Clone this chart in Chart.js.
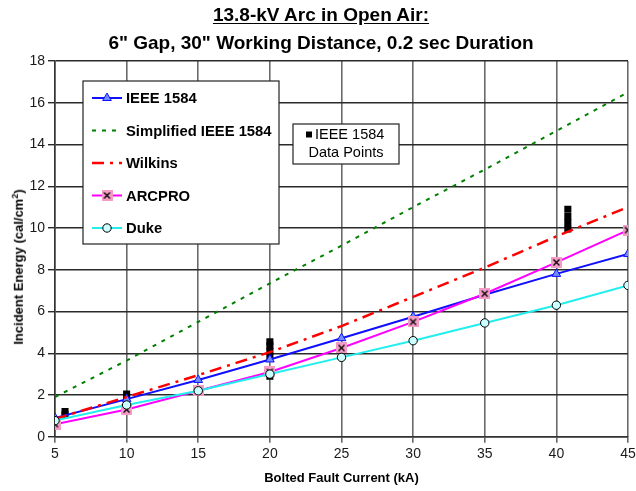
<!DOCTYPE html>
<html>
<head>
<meta charset="utf-8">
<script src="https://cdn.jsdelivr.net/npm/chart.js@4/dist/chart.umd.min.js"></script>
<style>
  html, body { margin: 0; padding: 0; background: #fff; }
  #wrap { position: relative; width: 636px; height: 491px; font-family: "Liberation Sans", Arial, sans-serif; color: #000; }
  #title { position: absolute; left: 0; top: 1px; width: 642px; text-align: center; font-weight: bold; font-size: 19px; line-height: 28px; }
  #title u { text-underline-offset: 2px; }
  #ylabel { position: absolute; left: 17.5px; top: 267px; transform: translate(-50%, -50%) rotate(-90deg); white-space: nowrap; font-weight: bold; font-size: 13px; }
  #ylabel sup { font-size: 9px; }
  canvas { position: absolute; left: 0; top: 0; }
</style>
</head>
<body>
<div id="wrap">
  <canvas id="arc" width="636" height="491"></canvas>
  <div id="title"><u>13.8-kV Arc in Open Air:</u><br>6" Gap, 30" Working Distance, 0.2 sec Duration</div>
  <div id="ylabel">Incident Energy (cal/cm<sup>2</sup>)</div>
</div>
<script>
// bolted fault current, kA
var currents = [5, 10, 15, 20, 25, 30, 35, 40, 45];

// incident energy, cal/cm2
var ieee1584   = [0.9, 1.8, 2.72, 3.7, 4.72, 5.75, 6.8, 7.8, 8.75];
var simplified = [1.9, 3.65, 5.5, 7.35, 9.15, 11.0, 12.8, 14.65, 16.5];
var wilkins    = [0.85, 1.9, 2.95, 4.05, 5.3, 6.7, 8.1, 9.6, 11.0];
var arcpro     = [0.6, 1.3, 2.2, 3.1, 4.25, 5.5, 6.85, 8.35, 9.9];
var duke       = [0.77, 1.52, 2.2, 3.0, 3.8, 4.6, 5.45, 6.3, 7.25];

// IEEE 1584 test data points
var testCurrent = [5.7, 5.7, 10, 10, 20, 20, 20, 20, 20, 40.8, 40.8, 40.8, 40.8];
var testEnergy  = [1.05, 1.2, 1.9, 2.05, 2.9, 3.85, 4.1, 4.35, 4.55, 9.95, 10.25, 10.55, 10.9];

var xTicks = [5, 10, 15, 20, 25, 30, 35, 40, 45];
var yTicks = [0, 2, 4, 6, 8, 10, 12, 14, 16, 18];

function pairs(xs, ys) {
  return xs.map(function(x, i) { return { x: x, y: ys[i] }; });
}

// pink square with a black cross for the ARCPRO markers
var arcproMark = document.createElement("canvas");
arcproMark.width = 11;
arcproMark.height = 11;
(function() {
  var c = arcproMark.getContext("2d");
  c.fillStyle = "#f59cc6";
  c.fillRect(0, 0, 11, 11);
  c.strokeStyle = "#000";
  c.lineWidth = 1.3;
  c.beginPath();
  c.moveTo(2.5, 2.5); c.lineTo(8.5, 8.5);
  c.moveTo(8.5, 2.5); c.lineTo(2.5, 8.5);
  c.stroke();
})();

var FONT = "'Liberation Sans', Arial, sans-serif";

var legendBox = {
  id: "legendBox",
  afterDatasetsDraw: function(chart) {
    var ctx = chart.ctx;
    ctx.save();
    ctx.fillStyle = "#fff";
    ctx.strokeStyle = "#222";
    ctx.lineWidth = 1.2;
    ctx.fillRect(83, 81, 196, 163);
    ctx.strokeRect(83, 81, 196, 163);

    var y = 98;
    chart.data.datasets.forEach(function(ds) {
      if (!ds.inLegend) return;
      ctx.save();
      ctx.strokeStyle = ds.borderColor;
      ctx.lineWidth = ds.borderWidth;
      ctx.setLineDash(ds.borderDash || []);
      ctx.beginPath();
      ctx.moveTo(92, y);
      ctx.lineTo(122, y);
      ctx.stroke();
      ctx.restore();
      if (ds.pointRadius > 0) {
        ctx.save();
        ctx.fillStyle = ds.pointBackgroundColor;
        ctx.strokeStyle = ds.pointBorderColor;
        ctx.lineWidth = ds.pointBorderWidth;
        Chart.helpers.drawPoint(ctx, {
          pointStyle: ds.pointStyle, radius: ds.pointRadius,
          borderWidth: ds.pointBorderWidth, rotation: 0
        }, 107, y);
        ctx.restore();
      }
      ctx.fillStyle = "#000";
      ctx.font = "bold 14.8px " + FONT;
      ctx.textBaseline = "middle";
      ctx.textAlign = "left";
      ctx.fillText(ds.label, 126, y + 1);
      y += 32.5;
    });

    // box naming the test points
    ctx.fillStyle = "#fff";
    ctx.strokeStyle = "#222";
    ctx.lineWidth = 1.2;
    ctx.fillRect(293, 124, 106, 40);
    ctx.strokeRect(293, 124, 106, 40);
    ctx.fillStyle = "#000";
    ctx.fillRect(306, 131.5, 6, 6);
    ctx.font = "14.5px " + FONT;
    ctx.textBaseline = "middle";
    ctx.textAlign = "left";
    ctx.fillText("IEEE 1584", 315, 135);
    ctx.textAlign = "center";
    ctx.fillText("Data Points", 346, 153);
    ctx.restore();
  }
};

var ctx = document.getElementById("arc").getContext("2d");

new Chart(ctx, {
  type: "line",
  data: {
    datasets: [
      {
        label: "IEEE 1584", inLegend: true, order: 5,
        data: pairs(currents, ieee1584),
        borderColor: "#1010ff", borderWidth: 2,
        pointStyle: "triangle", pointRadius: 5,
        pointBackgroundColor: "#6f8cff", pointBorderColor: "#1010ff", pointBorderWidth: 1
      },
      {
        label: "Simplified IEEE 1584", inLegend: true, order: 4,
        data: pairs(currents, simplified),
        borderColor: "#008000", borderWidth: 2, borderDash: [4, 6],
        pointRadius: 0
      },
      {
        label: "Wilkins", inLegend: true, order: 3,
        data: pairs(currents, wilkins),
        borderColor: "#ff0000", borderWidth: 2.5, borderDash: [12, 6, 3, 6],
        pointRadius: 0
      },
      {
        label: "ARCPRO", inLegend: true, order: 2,
        data: pairs(currents, arcpro),
        borderColor: "#ff00ff", borderWidth: 2,
        pointStyle: arcproMark, pointRadius: 5.5,
        pointBackgroundColor: "#f59cc6", pointBorderColor: "#000", pointBorderWidth: 1
      },
      {
        label: "Duke", inLegend: true, order: 1,
        data: pairs(currents, duke),
        borderColor: "#22eeee", borderWidth: 2,
        pointStyle: "circle", pointRadius: 4.2,
        pointBackgroundColor: "#ccffff", pointBorderColor: "#000", pointBorderWidth: 1
      },
      {
        label: "IEEE 1584 Data Points", inLegend: false, order: 6,
        data: pairs(testCurrent, testEnergy),
        showLine: false,
        pointStyle: "rect", pointRadius: 5,
        pointBackgroundColor: "#000", pointBorderColor: "#000", pointBorderWidth: 0
      }
    ]
  },
  options: {
    responsive: false,
    animation: false,
    events: [],
    elements: { line: { tension: 0 } },
    layout: { padding: { top: 61, right: 8, left: 0, bottom: 0 } },
    plugins: {
      legend: { display: false },
      tooltip: { enabled: false }
    },
    scales: {
      x: {
        type: "linear", min: 5, max: 45,
        afterBuildTicks: function(s) { s.ticks = xTicks.map(function(v) { return { value: v }; }); },
        afterFit: function(s) { s.height = 54.3; s.paddingLeft = 0; s.paddingRight = 0; },
        grid: { color: "#6a6a6a", lineWidth: 1.6, tickLength: 6 },
        border: { color: "#333", width: 1.5 },
        ticks: { color: "#1a1a1a", padding: 3, font: { family: FONT, size: 14 } },
        title: {
          display: true, text: "Bolted Fault Current (kA)", color: "#000",
          padding: { top: 0, bottom: 5 },
          font: { family: FONT, size: 13, weight: "bold" }
        }
      },
      y: {
        min: 0, max: 18,
        afterBuildTicks: function(s) { s.ticks = yTicks.map(function(v) { return { value: v }; }); },
        afterFit: function(s) { s.width = 55; s.paddingTop = 0; s.paddingBottom = 0; },
        grid: { color: "#2a2a2a", lineWidth: 1.4, tickLength: 7 },
        border: { color: "#333", width: 1.5 },
        ticks: { color: "#1a1a1a", padding: 3, font: { family: FONT, size: 14 } }
      }
    }
  },
  plugins: [legendBox]
});
</script>
</body>
</html>
